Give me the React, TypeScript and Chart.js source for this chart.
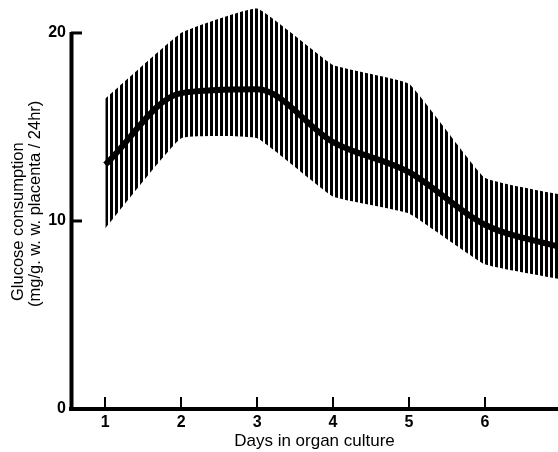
import React, { useEffect, useRef } from "react";
import { Chart, registerables } from "chart.js";

Chart.register(...registerables);

// ---- data ----
const days = [1, 2, 3, 4, 5, 6, 7];
const meanConsumption = [13.0, 16.8, 17.0, 14.2, 12.6, 9.8, 8.6];
const upperBound = [16.5, 20.0, 21.3, 18.3, 17.3, 12.3, 11.4];
const lowerBound = [9.6, 14.4, 14.4, 11.3, 10.4, 7.7, 6.9];
const xTickValues = [1, 2, 3, 4, 5, 6];
const yTickValues = [0, 10, 20];
const xTitle = "Days in organ culture";
const yTitleLines = ["Glucose consumption", "(mg/g. w. w. placenta / 24hr)"];

const FONT = '"Liberation Sans", Arial, Helvetica, sans-serif';

function makeHatch(ctx: CanvasRenderingContext2D) {
  const c = document.createElement("canvas");
  c.width = 5;
  c.height = 4;
  const g = c.getContext("2d")!;
  g.fillStyle = "#000";
  g.fillRect(0, 0, 3, 4);
  return ctx.createPattern(c, "repeat")!;
}

const axisDecor = {
  id: "axisDecor",
  afterDraw(chart: any) {
    const { ctx, chartArea, scales } = chart;
    const xs = scales.x;
    const ys = scales.y;
    ctx.save();
    ctx.strokeStyle = "#000";
    // y axis line from 0 to 20
    ctx.lineWidth = 4;
    ctx.beginPath();
    ctx.moveTo(chartArea.left + 0.5, ys.getPixelForValue(yTickValues[yTickValues.length - 1]) - 1);
    ctx.lineTo(chartArea.left + 0.5, ys.getPixelForValue(0) + 2);
    ctx.stroke();
    // inner x ticks
    ctx.lineWidth = 2;
    xTickValues.forEach((v) => {
      const px = Math.round(xs.getPixelForValue(v));
      ctx.beginPath();
      ctx.moveTo(px, chartArea.bottom);
      ctx.lineTo(px, chartArea.bottom - 12);
      ctx.stroke();
    });
    // inner y ticks
    ctx.lineWidth = 3;
    yTickValues
      .filter((v) => v > 0)
      .forEach((v) => {
        const py = ys.getPixelForValue(v);
        ctx.beginPath();
        ctx.moveTo(chartArea.left, py);
        ctx.lineTo(chartArea.left + 11, py);
        ctx.stroke();
      });
    // y title (two lines, rotated)
    ctx.fillStyle = "#000";
    ctx.font = `16.5px ${FONT}`;
    ctx.textAlign = "left";
    ctx.textBaseline = "middle";
    const starts = [
      [18.5, 301],
      [35, 307],
    ];
    yTitleLines.forEach((line, i) => {
      ctx.save();
      ctx.translate(starts[i][0], starts[i][1]);
      ctx.rotate(-Math.PI / 2);
      ctx.fillText(line, 0, 0);
      ctx.restore();
    });
    ctx.restore();
  },
};

export default function App() {
  const ref = useRef<HTMLCanvasElement | null>(null);

  useEffect(() => {
    document.body.style.margin = "0";
    const canvas = ref.current!;
    const ctx = canvas.getContext("2d")!;
    const hatch = makeHatch(ctx);

    const chart = new Chart(ctx, {
      type: "line",
      data: {
        datasets: [
          {
            label: "Mean",
            data: days.map((d, i) => ({ x: d, y: meanConsumption[i] })),
            borderColor: "#000",
            borderWidth: 6,
            pointRadius: 0,
            cubicInterpolationMode: "monotone",
            fill: false,
          },
          {
            label: "Upper",
            data: days.map((d, i) => ({ x: d, y: upperBound[i] })),
            borderWidth: 0,
            borderColor: "rgba(0,0,0,0)",
            backgroundColor: hatch,
            pointRadius: 0,
            tension: 0.1,
            fill: "+1",
          },
          {
            label: "Lower",
            data: days.map((d, i) => ({ x: d, y: lowerBound[i] })),
            borderWidth: 0,
            borderColor: "rgba(0,0,0,0)",
            pointRadius: 0,
            tension: 0.1,
            fill: false,
          },
        ],
      },
      options: {
        animation: false,
        responsive: false,
        devicePixelRatio: 1,
        layout: { padding: { top: 1, left: 0, right: 0, bottom: 0 } },
        plugins: {
          legend: { display: false },
          tooltip: { enabled: false },
        },
        scales: {
          x: {
            type: "linear",
            min: 0.548,
            max: 6.964,
            grid: { display: false, drawTicks: false },
            border: { display: true, width: 4, color: "#000" },
            ticks: {
              color: "#000",
              padding: 4,
              font: { family: FONT, size: 16, weight: "bold" },
              callback: (v: any) => String(v),
            },
            afterBuildTicks: (scale: any) => {
              scale.ticks = xTickValues.map((v) => ({ value: v }));
            },
            afterFit: (scale: any) => {
              scale.height = 43;
              scale.paddingLeft = 0;
              scale.paddingRight = 0;
            },
            title: {
              display: true,
              text: xTitle,
              color: "#000",
              font: { family: FONT, size: 17 },
              padding: { top: 0, bottom: 0 },
            },
          },
          y: {
            type: "linear",
            min: 0,
            max: 21.7,
            grid: { display: false, drawTicks: false },
            border: { display: false },
            ticks: {
              color: "#000",
              padding: 5,
              font: { family: FONT, size: 16, weight: "bold" },
              callback: (v: any) => String(v),
            },
            afterBuildTicks: (scale: any) => {
              scale.ticks = yTickValues.map((v) => ({ value: v }));
            },
            afterFit: (scale: any) => {
              scale.width = 71;
              scale.paddingTop = 0;
              scale.paddingBottom = 0;
            },
          },
        },
      },
      plugins: [axisDecor],
    } as any);

    return () => chart.destroy();
  }, []);

  return (
    <div style={{ width: 558, height: 452, position: "relative", background: "#fff" }}>
      <canvas ref={ref} width={558} height={452} style={{ display: "block" }} />
    </div>
  );
}
